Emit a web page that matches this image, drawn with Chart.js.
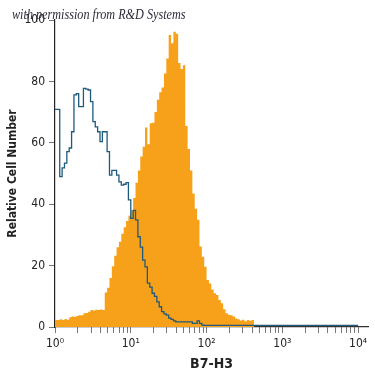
<!DOCTYPE html>
<html>
<head>
<meta charset="utf-8">
<script src="https://cdn.jsdelivr.net/npm/chart.js@4/dist/chart.umd.min.js"></script>
<style>
  html, body { margin: 0; padding: 0; background: #fff; }
  #wrap { width: 375px; height: 375px; position: relative; }
</style>
</head>
<body>
<div id="wrap"><canvas id="chart"></canvas></div>
<script>
// histogram channels, 32 per decade, starting at 10^0
const binsPerDecade = 32;

// B7-H3 stained cells (orange, filled)
const stainedCounts = [
  2.3, 2.3, 2.5, 2.3, 2.6, 2.4, 3.2, 3.4, 3.3, 3.6,
  3.8, 3.8, 4.5, 4.6, 5.0, 5.5, 5.4, 5.6, 5.5, 5.7,
  5.5, 11.2, 12.8, 16.0, 19.8, 23.2, 26.0, 27.8, 30.4, 32.5,
  34.5, 36.2, 38.0, 42.0, 47.0, 51.0, 55.5, 58.7, 65.0, 59.5,
  66.4, 66.5, 70.0, 74.0, 76.5, 78.0, 82.6, 87.5, 95.1, 92.4,
  96.2, 95.5, 86.0, 84.0, 85.3, 65.5, 58.0, 51.0, 43.5, 38.5,
  34.9, 26.2, 22.9, 19.6, 15.3, 14.2, 12.2, 11.0, 10.4, 8.8,
  7.7, 5.8, 4.5, 4.0, 3.8, 3.4, 2.8, 2.5, 2.1, 2.4,
  1.9, 2.3, 2.0, 2.3
];

// isotype control (blue outline)
const controlCounts = [
  70.9, 70.9, 49.0, 51.8, 53.4, 57.1, 58.3, 63.6, 75.6, 76.0,
  71.8, 71.8, 77.7, 77.5, 77.2, 73.4, 66.9, 65.2, 63.6, 60.4,
  63.6, 63.6, 57.1, 49.5, 51.0, 51.0, 49.5, 47.3, 46.2, 46.5,
  47.0, 41.4, 35.4, 38.0, 34.9, 29.4, 26.0, 21.8, 19.6, 14.3,
  13.0, 11.0, 10.0, 8.2, 6.6, 5.0, 4.3, 3.9, 2.9, 2.5,
  2.0, 1.7, 1.7, 1.7, 1.7, 1.7, 1.7, 1.7, 1.2, 1.2,
  2.0, 1.2, 0.6, 0.5, 0.5, 0.5, 0.5, 0.5, 0.5, 0.5,
  0.5, 0.5, 0.5, 0.5, 0.5, 0.5, 0.5, 0.5, 0.5, 0.5,
  0.5, 0.5, 0.5, 0.5, 0.5, 0.5, 0.5, 0.5, 0.5, 0.5,
  0.5, 0.5, 0.5, 0.5, 0.5, 0.5, 0.5, 0.5, 0.5, 0.5,
  0.5, 0.5, 0.5, 0.5, 0.5, 0.5, 0.5, 0.5, 0.5, 0.5,
  0.5, 0.5, 0.5, 0.5, 0.5, 0.5, 0.5, 0.5, 0.5, 0.5,
  0.5, 0.5, 0.5, 0.5, 0.5, 0.5, 0.5, 0.5
];

const xDecades = [1, 10, 100, 1000, 10000];
const xTickLabels = ['10\u2070', '10\u00B9', '10\u00B2', '10\u00B3', '10\u2074'];
const yTicks = [0, 20, 40, 60, 80, 100];

const narrow = '"DejaVu Sans Condensed", "Liberation Sans Narrow", sans-serif';

// turn channel counts into step points (left edge of each bin + closing edge)
function toSteps(counts, closeValue) {
  let pts = counts.map((v, i) => ({ x: Math.pow(10, i / binsPerDecade), y: v }));
  pts.push({ x: Math.pow(10, counts.length / binsPerDecade), y: closeValue });
  return pts;
}

const creditPlugin = {
  id: 'credit',
  afterDraw(chart) {
    const ctx = chart.ctx;
    ctx.save();
    ctx.font = 'italic 14px "Liberation Serif", "DejaVu Serif", serif';
    ctx.fillStyle = '#2b2b3a';
    ctx.textBaseline = 'middle';
    ctx.translate(12, 15);
    ctx.scale(0.87, 1);
    ctx.fillText('with permission from R&D Systems', 0, 0);
    ctx.restore();
  }
};

new Chart(document.getElementById('chart'), {
  type: 'line',
  data: {
    datasets: [
      {
        label: 'Isotype control',
        data: toSteps(controlCounts, controlCounts[controlCounts.length - 1]),
        stepped: true,
        borderColor: '#1f5a7c',
        borderWidth: 1.3,
        pointRadius: 0,
        fill: false
      },
      {
        label: 'B7-H3',
        data: toSteps(stainedCounts, 0),
        stepped: true,
        borderColor: '#f7a11a',
        borderWidth: 0,
        backgroundColor: '#f7a11a',
        pointRadius: 0,
        fill: 'origin'
      }
    ]
  },
  options: {
    responsive: true,
    maintainAspectRatio: false,
    animation: false,
    layout: { padding: { left: 0, top: 20, right: 7, bottom: 0 } },
    plugins: {
      legend: { display: false },
      tooltip: { enabled: false }
    },
    scales: {
      x: {
        type: 'logarithmic',
        min: 1,
        max: Math.pow(10, 4.13),
        afterBuildTicks(scale) {
          let t = [];
          for (let d = 0; d < 4; d++) {
            for (let k = 1; k < 10; k++) t.push({ value: xDecades[d] * k });
          }
          t.push({ value: xDecades[4] });
          scale.ticks = t;
        },
        afterFit(scale) { scale.height = 48; },
        grid: { display: true, drawOnChartArea: false, drawTicks: true, tickLength: 6, color: '#777' },
        border: { display: true, color: '#333', width: 1.2 },
        ticks: {
          autoSkip: false,
          maxRotation: 0,
          padding: 4,
          color: '#222',
          font: { family: narrow, size: 12 },
          callback(value) {
            const idx = xDecades.indexOf(value);
            return idx >= 0 ? xTickLabels[idx] : '';
          }
        },
        title: {
          display: true,
          text: 'B7-H3',
          color: '#222',
          font: { family: narrow, size: 14, weight: 'bold' },
          padding: { top: 0, bottom: 2 }
        }
      },
      y: {
        min: 0,
        max: 100,
        afterBuildTicks(scale) {
          scale.ticks = yTicks.map(v => ({ value: v }));
        },
        afterFit(scale) { scale.width = 55; },
        grid: { display: true, drawOnChartArea: false, drawTicks: true, tickLength: 6, color: '#777' },
        border: { display: true, color: '#222', width: 1.2 },
        ticks: {
          padding: 4,
          color: '#222',
          font: { family: narrow, size: 12 }
        },
        title: {
          display: true,
          text: 'Relative Cell Number',
          color: '#222',
          font: { family: narrow, size: 12, weight: 'bold' },
          padding: { top: 6, bottom: 0 }
        }
      }
    }
  },
  plugins: [creditPlugin]
});
</script>
</body>
</html>
